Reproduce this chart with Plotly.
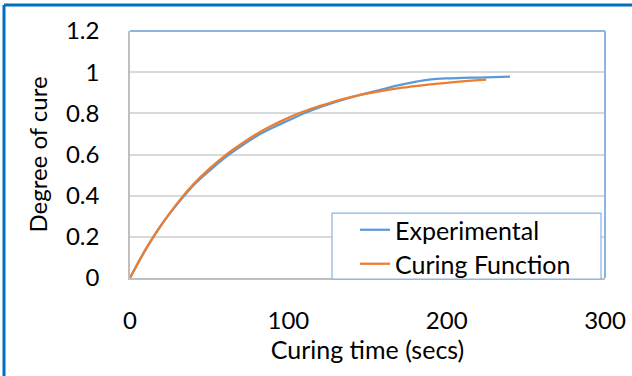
import plotly.graph_objects as go

exp_time = [0, 10, 20, 30, 40, 50, 60, 70, 80, 90, 100, 110, 120, 130, 140, 150, 160, 170, 180, 190, 200, 210, 220, 230, 240]
exp_cure = [0, 0.14, 0.26, 0.36, 0.45, 0.52, 0.585, 0.64, 0.69, 0.73, 0.765, 0.80, 0.83, 0.855, 0.878, 0.898, 0.918, 0.937, 0.953, 0.965, 0.970, 0.972, 0.974, 0.976, 0.978]

fit_time = [0, 10, 20, 30, 40, 50, 60, 70, 80, 90, 100, 110, 120, 130, 140, 150, 160, 170, 180, 190, 200, 210, 220, 225]
fit_cure = [0, 0.14, 0.26, 0.365, 0.455, 0.53, 0.595, 0.65, 0.70, 0.742, 0.778, 0.81, 0.836, 0.86, 0.88, 0.897, 0.91, 0.922, 0.932, 0.941, 0.948, 0.955, 0.961, 0.964]

x_ticks = [0, 100, 200, 300]
y_ticks = [0, 0.2, 0.4, 0.6, 0.8, 1.0, 1.2]
y_labels = ["0", "0.2", "0.4", "0.6", "0.8", "1", "1.2"]

FONT = "Lato, Carlito, Calibri, sans-serif"
FS = 24
PW, PH = 475, 247  # plot area size in px

fig = go.Figure()
fig.add_trace(go.Scatter(x=exp_time, y=exp_cure, mode="lines", name="Experimental",
                         legend="legend",
                         line=dict(color="#5B9BD5", width=2.25, shape="spline")))
fig.add_trace(go.Scatter(x=fit_time, y=fit_cure, mode="lines", name="Curing Function",
                         legend="legend2",
                         line=dict(color="#ED7D31", width=2.25, shape="spline")))

leg_common = dict(xanchor="left", yanchor="middle", bgcolor="rgba(0,0,0,0)",
                  borderwidth=0, font=dict(size=25), itemwidth=30)

fig.update_layout(
    width=632, height=376,
    margin=dict(l=130, r=27, t=31, b=98, autoexpand=False),
    paper_bgcolor="white", plot_bgcolor="white",
    font=dict(family=FONT, size=FS, color="#000000"),
    showlegend=True,
    legend=dict(x=(355 - 130) / PW, y=(278 - 230) / PH, **leg_common),
    legend2=dict(x=(355 - 130) / PW, y=(278 - 264) / PH, **leg_common),
    xaxis=dict(range=[0, 300], tickvals=x_ticks, showgrid=False, zeroline=False,
               showline=True, linecolor="#BFBFBF", linewidth=1.5, ticks="",
               ticklabelstandoff=20, automargin=False,
               title=dict(text="Curing time (secs)", standoff=6, font=dict(size=25))),
    yaxis=dict(range=[0, 1.2], tickvals=y_ticks, ticktext=y_labels, showgrid=True,
               gridcolor="#D9D9D9", gridwidth=1.5, zeroline=False,
               showline=True, linecolor="#BFBFBF", linewidth=1.5, ticks="",
               ticklabelstandoff=24, automargin=False,
               title=dict(text="Degree of cure", standoff=12, font=dict(size=FS))),
    shapes=[
        dict(type="line", xref="paper", yref="paper", x0=0, x1=1, y0=1, y1=1,
             line=dict(color="#8DB4E2", width=2)),
        dict(type="line", xref="paper", yref="paper", x0=1, x1=1, y0=0, y1=1,
             line=dict(color="#8DB4E2", width=2)),
        dict(type="rect", xref="paper", yref="paper", layer="above",
             x0=(332 - 130) / PW, x1=(601 - 130) / PW, y0=(278 - 279) / PH, y1=(278 - 213) / PH,
             fillcolor="white", line=dict(color="#8DB4E2", width=1.25)),
        dict(type="line", xref="paper", yref="paper", x0=-126/PW, x1=1 + 40/PW,
             y0=1 + 26/PH, y1=1 + 26/PH, line=dict(color="#0070C0", width=3)),
        dict(type="line", xref="paper", yref="paper", x0=-126/PW, x1=-126/PW,
             y0=-110/PH, y1=1 + 26/PH, line=dict(color="#0070C0", width=3)),
    ],
)

fig.write_html("out.html", config={"displayModeBar": False},
               post_script="document.body.style.margin='0';")
